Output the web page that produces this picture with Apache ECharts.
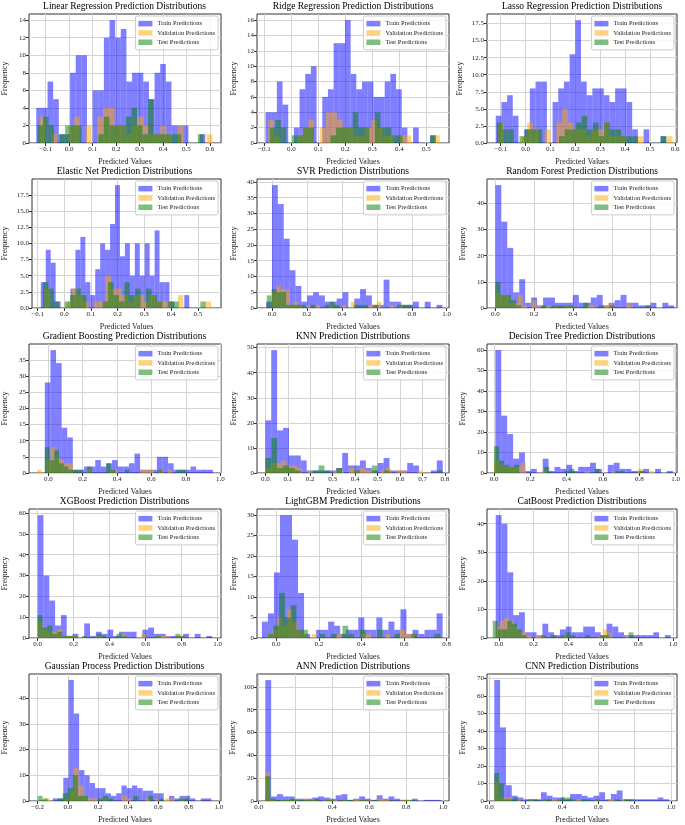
<!DOCTYPE html>
<html>
<head>
<meta charset="utf-8">
<script src="https://cdn.jsdelivr.net/npm/echarts@6/dist/echarts.min.js"></script>
</head>
<body style="margin:0;background:#fff">
<div id="main" style="width:685px;height:825px;"></div>
<script type="text/javascript">
    // 15 histogram panels, 30 bins per set
    var titles = ['Linear Regression', 'Ridge Regression', 'Lasso Regression',
        'Elastic Net', 'SVR', 'Random Forest',
        'Gradient Boosting', 'KNN', 'Decision Tree',
        'XGBoost', 'LightGBM', 'CatBoost',
        'Gaussian Process', 'ANN', 'CNN'];
    var seriesNames = ['Train Predictions', 'Validation Predictions', 'Test Predictions'];

    // counts per bin; ranges = [train, validation, test] min/max of the predictions
    var lrTrain = [4, 4, 7, 5, 1, 1, 8, 10, 10, 0, 6, 6, 12, 14, 12, 13, 7, 8, 8, 7, 5, 8, 9, 7, 2, 2, 2, 0, 0, 1];
    var lrVal = [3, 0, 1, 0, 0, 2, 3, 0, 2, 0, 3, 4, 4, 2, 2, 1, 2, 3, 2, 1, 1, 2, 1, 0, 2, 0, 0, 0, 0, 1];
    var lrTest = [2, 3, 2, 0, 1, 2, 2, 2, 0, 0, 0, 1, 3, 2, 2, 2, 3, 4, 2, 1, 5, 1, 1, 1, 1, 1, 0, 0, 0, 1];
    var lrRanges = [[-0.14, 0.58], [-0.125, 0.61], [-0.135, 0.572]];

    var ridgeTrain = [4, 4, 8, 5, 0, 2, 7, 9, 10, 0, 6, 7, 13, 13, 16, 9, 7, 8, 8, 6, 6, 8, 9, 7, 2, 0, 2, 0, 0, 1];
    var ridgeVal = [3, 1, 0, 0, 0, 1, 2, 3, 0, 2, 4, 4, 3, 2, 2, 1, 1, 2, 3, 2, 1, 1, 0, 1, 1, 0, 0, 0, 0, 1];
    var ridgeTest = [2, 3, 2, 0, 1, 1, 2, 2, 0, 0, 0, 1, 2, 2, 2, 4, 2, 2, 0, 4, 2, 2, 1, 1, 0, 0, 0, 0, 0, 1];
    var ridgeRanges = [[-0.0955, 0.535], [-0.085, 0.55], [-0.08, 0.535]];

    var lassoTrain = [4, 6, 7, 4, 0, 2, 8, 9, 9, 0, 6, 8, 9, 13, 18, 9, 7, 8, 8, 7, 6, 8, 8, 6, 2, 0, 2, 0, 0, 1];
    var lassoVal = [3, 0, 0, 0, 1, 3, 2, 0, 2, 0, 3, 5, 3, 2, 2, 1, 2, 2, 3, 1, 1, 1, 0, 0, 1, 0, 0, 0, 0, 1];
    var lassoTest = [3, 2, 2, 0, 1, 2, 2, 2, 0, 0, 0, 1, 2, 2, 3, 4, 2, 3, 1, 3, 2, 2, 1, 1, 1, 0, 0, 0, 0, 1];
    var lassoRanges = [[-0.12, 0.565], [-0.11, 0.59], [-0.115, 0.565]];

    var enetTrain = [4, 9, 7, 1, 0, 0, 3, 9, 11, 4, 2, 6, 10, 9, 13, 19, 8, 10, 5, 10, 5, 10, 5, 12, 4, 4, 1, 0, 0, 2];
    var enetVal = [3, 0, 0, 0, 1, 3, 2, 1, 0, 1, 1, 5, 3, 3, 2, 1, 2, 2, 1, 2, 1, 1, 1, 0, 2, 0, 0, 0, 0, 1];
    var enetTest = [4, 3, 1, 0, 1, 2, 3, 2, 0, 0, 0, 1, 4, 2, 1, 4, 2, 3, 0, 3, 2, 1, 0, 1, 1, 0, 0, 0, 0, 1];
    var enetRanges = [[-0.088, 0.468], [-0.075, 0.55], [-0.08, 0.53]];

    var svrTrain = [2, 39, 33, 22, 12, 7, 2, 4, 5, 4, 2, 2, 3, 5, 0, 3, 6, 4, 1, 1, 9, 2, 2, 1, 1, 2, 0, 2, 0, 1];
    var svrVal = [5, 7, 6, 6, 1, 2, 1, 0, 1, 0, 1, 0, 0, 1, 0, 0, 1, 0, 2, 0, 0, 0, 1, 1, 2, 0, 0, 1, 0, 1];
    var svrTest = [4, 6, 5, 5, 1, 1, 1, 1, 0, 1, 0, 0, 1, 2, 1, 0, 0, 0, 1, 1, 1, 0, 1, 0, 0, 0, 0, 1, 1, 1];
    var svrRanges = [[-0.034, 0.975], [0.0, 0.75], [-0.03, 0.8]];

    var rfTrain = [47, 33, 23, 6, 11, 2, 4, 1, 4, 4, 2, 2, 2, 5, 2, 2, 4, 5, 1, 2, 3, 5, 2, 2, 1, 1, 2, 0, 2, 1];
    var rfVal = [6, 5, 5, 2, 2, 5, 1, 0, 3, 1, 0, 1, 0, 1, 0, 1, 1, 0, 0, 0, 1, 1, 0, 0, 1, 2, 0, 0, 0, 2];
    var rfTest = [10, 5, 5, 3, 1, 0, 0, 0, 0, 1, 0, 1, 1, 1, 1, 0, 0, 2, 0, 0, 1, 0, 1, 0, 0, 0, 0, 0, 0, 1];
    var rfRanges = [[0.0, 0.922], [0.0, 0.7], [0.0, 0.8]];

    var gbTrain = [28, 38, 34, 14, 11, 1, 1, 2, 2, 4, 2, 3, 4, 2, 2, 3, 6, 1, 1, 1, 5, 5, 3, 1, 1, 1, 2, 1, 1, 1];
    var gbVal = [1, 0, 4, 8, 5, 4, 3, 3, 0, 0, 0, 1, 0, 0, 0, 0, 1, 1, 0, 0, 0, 0, 0, 1, 1, 1, 0, 1, 0, 1];
    var gbTest = [8, 4, 7, 3, 2, 1, 1, 1, 0, 2, 0, 0, 0, 3, 1, 0, 0, 1, 0, 0, 0, 0, 0, 0, 1, 0, 0, 0, 1, 1];
    var gbRanges = [[-0.02, 0.957], [-0.065, 0.72], [-0.02, 0.8]];

    var knnTrain = [21, 49, 17, 18, 7, 7, 5, 1, 1, 1, 1, 1, 2, 8, 3, 3, 5, 2, 1, 4, 6, 1, 1, 1, 4, 3, 0, 0, 1, 5];
    var knnVal = [2, 4, 4, 5, 3, 3, 2, 0, 1, 0, 0, 0, 0, 1, 1, 0, 2, 1, 2, 1, 1, 0, 1, 2, 0, 1, 1, 0, 0, 1];
    var knnTest = [6, 14, 2, 3, 2, 1, 0, 0, 1, 3, 1, 0, 2, 0, 0, 1, 0, 0, 3, 0, 1, 0, 0, 0, 0, 0, 0, 0, 0, 1];
    var knnRanges = [[0.0, 0.79], [0.0, 0.7], [0.0, 0.79]];

    var dtTrain = [60, 28, 19, 7, 10, 1, 2, 0, 7, 1, 3, 2, 4, 1, 3, 3, 5, 2, 0, 4, 5, 2, 2, 1, 1, 2, 0, 2, 0, 1];
    var dtVal = [6, 4, 3, 3, 3, 5, 0, 0, 0, 1, 0, 0, 0, 0, 0, 0, 0, 1, 0, 0, 0, 0, 1, 0, 0, 0, 0, 2, 0, 1];
    var dtTest = [13, 6, 4, 3, 4, 0, 0, 0, 0, 0, 3, 0, 0, 0, 1, 2, 0, 0, 0, 0, 2, 0, 0, 0, 1, 1, 0, 0, 0, 1];
    var dtRanges = [[0.007, 0.985], [0.0, 0.88], [0.0, 0.83]];

    var xgbTrain = [59, 30, 18, 6, 11, 1, 2, 0, 7, 1, 3, 2, 4, 1, 3, 3, 3, 0, 4, 5, 2, 2, 1, 1, 1, 2, 0, 2, 0, 1];
    var xgbVal = [8, 4, 3, 3, 4, 1, 1, 1, 0, 0, 0, 0, 1, 0, 0, 0, 0, 2, 0, 0, 0, 2, 0, 0, 1, 1, 1, 0, 1, 1];
    var xgbTest = [11, 5, 6, 2, 3, 1, 1, 1, 0, 1, 0, 0, 2, 1, 0, 0, 2, 1, 0, 0, 0, 0, 0, 0, 1, 0, 0, 0, 2, 1];
    var xgbRanges = [[0.0, 0.97], [0.0, 0.82], [0.0, 0.82]];

    var lgbTrain = [4, 6, 16, 30, 30, 24, 11, 1, 0, 2, 2, 4, 3, 1, 2, 2, 5, 2, 2, 5, 2, 4, 2, 7, 1, 2, 1, 2, 2, 6];
    var lgbVal = [1, 2, 5, 3, 7, 4, 2, 1, 0, 1, 0, 0, 0, 0, 1, 0, 0, 0, 0, 1, 1, 0, 0, 0, 1, 0, 0, 2, 1, 1];
    var lgbTest = [1, 3, 11, 5, 8, 2, 2, 0, 0, 1, 0, 1, 0, 3, 1, 0, 2, 0, 0, 2, 0, 0, 1, 0, 0, 1, 0, 0, 0, 1];
    var lgbRanges = [[-0.067, 0.781], [-0.04, 0.65], [-0.04, 0.77]];

    var catTrain = [43, 40, 23, 8, 9, 2, 2, 1, 5, 2, 1, 3, 4, 2, 2, 4, 4, 2, 1, 5, 4, 2, 1, 1, 1, 1, 1, 2, 0, 1];
    var catVal = [4, 6, 7, 6, 4, 2, 2, 1, 0, 1, 1, 0, 0, 0, 0, 1, 0, 0, 0, 0, 0, 0, 0, 1, 3, 2, 0, 0, 0, 1];
    var catTest = [6, 3, 3, 6, 5, 3, 1, 0, 0, 0, 1, 0, 1, 0, 1, 2, 1, 0, 0, 1, 0, 0, 1, 1, 0, 0, 0, 0, 2, 0];
    var catRanges = [[-0.018, 0.986], [-0.02, 0.75], [-0.035, 0.8]];

    var gpTrain = [1, 1, 9, 47, 34, 12, 10, 7, 5, 5, 3, 2, 3, 6, 5, 6, 5, 4, 4, 3, 3, 0, 2, 1, 2, 2, 1, 0, 1, 1];
    var gpVal = [1, 0, 0, 0, 1, 4, 13, 6, 2, 1, 1, 0, 1, 0, 0, 0, 2, 1, 0, 0, 0, 1, 0, 1, 0, 1, 1, 0, 1, 0];
    var gpTest = [2, 1, 0, 0, 1, 3, 5, 10, 2, 2, 0, 0, 1, 2, 1, 0, 0, 0, 0, 2, 0, 0, 2, 0, 1, 0, 0, 0, 1, 1];
    var gpRanges = [[-0.1, 0.95], [-0.15, 0.8], [-0.2, 0.8]];

    var annTrain = [106, 4, 6, 4, 4, 2, 2, 2, 3, 4, 3, 2, 5, 6, 1, 2, 4, 2, 1, 5, 2, 4, 2, 1, 0, 2, 0, 1, 1, 1];
    var annVal = [25, 1, 0, 1, 1, 1, 2, 0, 2, 1, 1, 0, 1, 1, 1, 0, 1, 0, 1, 1, 1, 1, 0, 2, 1, 1, 0, 0, 1, 1];
    var annTest = [22, 2, 1, 1, 1, 2, 1, 1, 1, 1, 2, 0, 1, 1, 0, 1, 1, 1, 0, 1, 1, 0, 1, 0, 0, 1, 0, 0, 1, 1];
    var annRanges = [[0.036, 0.99], [0.036, 0.82], [0.036, 0.84]];

    var cnnTrain = [69, 42, 9, 3, 2, 1, 1, 1, 5, 3, 2, 2, 1, 4, 4, 3, 2, 3, 5, 1, 4, 6, 1, 1, 1, 1, 1, 1, 2, 1];
    var cnnVal = [11, 2, 2, 2, 0, 1, 0, 0, 1, 0, 0, 1, 0, 1, 1, 0, 0, 0, 1, 1, 0, 0, 0, 1, 0, 0, 1, 1, 0, 1];
    var cnnTest = [16, 10, 1, 1, 2, 0, 0, 1, 1, 0, 1, 1, 0, 1, 2, 2, 1, 0, 1, 1, 0, 1, 0, 0, 0, 1, 0, 1, 1, 0];
    var cnnRanges = [[0.027, 0.99], [0.027, 0.75], [0.027, 0.82]];

    var counts = [
        [lrTrain, lrVal, lrTest], [ridgeTrain, ridgeVal, ridgeTest], [lassoTrain, lassoVal, lassoTest],
        [enetTrain, enetVal, enetTest], [svrTrain, svrVal, svrTest], [rfTrain, rfVal, rfTest],
        [gbTrain, gbVal, gbTest], [knnTrain, knnVal, knnTest], [dtTrain, dtVal, dtTest],
        [xgbTrain, xgbVal, xgbTest], [lgbTrain, lgbVal, lgbTest], [catTrain, catVal, catTest],
        [gpTrain, gpVal, gpTest], [annTrain, annVal, annTest], [cnnTrain, cnnVal, cnnTest]
    ];
    var ranges = [lrRanges, ridgeRanges, lassoRanges, enetRanges, svrRanges, rfRanges,
        gbRanges, knnRanges, dtRanges, xgbRanges, lgbRanges, catRanges, gpRanges, annRanges, cnnRanges];

    // axis limits and tick labels
    var xLimits = [[-0.171, 0.647], [-0.127, 0.584], [-0.155, 0.608], [-0.121, 0.587], [-0.086, 1.013],
        [-0.043, 0.936], [-0.112, 1.004], [-0.037, 0.818], [-0.039, 1.008], [-0.048, 1.019],
        [-0.09, 0.811], [-0.068, 1.022], [-0.257, 1.014], [-0.009, 1.032], [-0.013, 1.033]];
    var tickNeg1to6 = [-0.1, 0, 0.1, 0.2, 0.3, 0.4, 0.5, 0.6];
    var tickNeg1to5 = [-0.1, 0, 0.1, 0.2, 0.3, 0.4, 0.5];
    var tick0to1 = [0, 0.2, 0.4, 0.6, 0.8, 1.0];
    var tick0to08 = [0, 0.2, 0.4, 0.6, 0.8];
    var tickKnn = [0, 0.1, 0.2, 0.3, 0.4, 0.5, 0.6, 0.7, 0.8];
    var tickGp = [-0.2, 0, 0.2, 0.4, 0.6, 0.8, 1.0];
    var xTicks = [tickNeg1to6, tickNeg1to5, tickNeg1to6, tickNeg1to5, tick0to1, tick0to08,
        tick0to1, tickKnn, tick0to1, tick0to1, tick0to08, tick0to1, tickGp, tick0to1, tick0to1];
    var yTicks = [
        [0, 2, 4, 6, 8, 10, 12, 14], [0, 2, 4, 6, 8, 10, 12, 14, 16],
        [0, 2.5, 5, 7.5, 10, 12.5, 15, 17.5], [0, 2.5, 5, 7.5, 10, 12.5, 15, 17.5],
        [0, 5, 10, 15, 20, 25, 30, 35, 40], [0, 10, 20, 30, 40],
        [0, 5, 10, 15, 20, 25, 30, 35], [0, 10, 20, 30, 40, 50], [0, 10, 20, 30, 40, 50, 60],
        [0, 10, 20, 30, 40, 50, 60], [0, 5, 10, 15, 20, 25, 30], [0, 10, 20, 30, 40],
        [0, 10, 20, 30, 40], [0, 20, 40, 60, 80, 100], [0, 10, 20, 30, 40, 50, 60, 70]
    ];

    // layout (pixels)
    var FONT = 'Liberation Serif';
    var colors = ['rgba(0,0,255,0.5)', 'rgba(255,165,0,0.5)', 'rgba(0,128,0,0.5)'];
    var colLeft = [28, 257, 487];
    var colRight = [221, 449, 677];
    var rowTop = [14, 179, 344, 509, 674];
    var plotHeight = 129;
    var yNameX = [8, 238, 467];

    function histData(c, r) {
        var w = (r[1] - r[0]) / c.length;
        return c.map(function (v, k) {
            return [r[0] + k * w, r[0] + (k + 1) * w, v];
        });
    }

    function renderBar(params, api) {
        var p0 = api.coord([api.value(0), 0]);
        var p1 = api.coord([api.value(1), api.value(2)]);
        return {
            type: 'rect',
            shape: {x: p0[0], y: p1[1], width: p1[0] - p0[0], height: p0[1] - p1[1]},
            style: {fill: api.visual('color')}
        };
    }

    function fmtNum(v, dec) {
        var s = Math.abs(v).toFixed(dec);
        return v < -1e-9 ? '\u2212' + s : s;
    }

    var grids = [], xAxes = [], yAxes = [], titleList = [], legends = [], series = [];

    titles.forEach(function (t, i) {
        var r = Math.floor(i / 3), c = i % 3;
        var yt = yTicks[i];
        var yDec = (yt[1] % 1 !== 0) ? 1 : 0;
        var maxLen = fmtNum(yt[yt.length - 1], yDec).length;
        var yMax = 1.05 * Math.max.apply(null, counts[i].map(function (a) {
            return Math.max.apply(null, a);
        }));

        grids.push({
            left: colLeft[c], top: rowTop[r],
            width: colRight[c] - colLeft[c], height: plotHeight,
            show: true, borderColor: '#333', borderWidth: 1
        });
        titleList.push({
            text: t + ' Prediction Distributions',
            left: (colLeft[c] + colRight[c]) / 2,
            top: rowTop[r] - 13,
            textAlign: 'center',
            padding: 0,
            textStyle: {fontFamily: FONT, fontSize: 9.5, fontWeight: 'normal', color: '#000'}
        });
        legends.push({
            orient: 'vertical',
            right: 685 - colRight[c] + 3,
            top: rowTop[r] + 2,
            data: seriesNames,
            icon: 'rect',
            itemWidth: 14,
            itemHeight: 5.5,
            itemGap: 0,
            padding: [3, 3, 3, 3],
            backgroundColor: 'rgba(255,255,255,0.8)',
            borderColor: '#cccccc',
            borderWidth: 1,
            borderRadius: 2,
            selectedMode: false,
            textStyle: {fontFamily: FONT, fontSize: 6.5, color: '#222', lineHeight: 9.3}
        });
        xAxes.push({
            type: 'value', gridIndex: i,
            min: xLimits[i][0], max: xLimits[i][1],
            axisLine: {show: false, onZero: false},
            axisTick: {show: true, customValues: xTicks[i], length: 3, lineStyle: {color: '#333'}},
            axisLabel: {
                customValues: xTicks[i], margin: 3,
                fontFamily: FONT, fontSize: 7, color: '#222',
                formatter: function (v) { return fmtNum(v, 1); }
            },
            splitLine: {show: true, lineStyle: {color: '#d4d4d4', width: 1}},
            name: 'Predicted Values', nameLocation: 'middle', nameGap: 15,
            nameTextStyle: {fontFamily: FONT, fontSize: 8, color: '#222'}
        });
        yAxes.push({
            type: 'value', gridIndex: i,
            min: 0, max: yMax,
            axisLine: {show: false, onZero: false},
            axisTick: {show: true, customValues: yt, length: 3, lineStyle: {color: '#333'}},
            axisLabel: {
                customValues: yt, margin: 3,
                fontFamily: FONT, fontSize: 7, color: '#222',
                formatter: function (v) { return fmtNum(v, yDec); }
            },
            splitLine: {show: true, lineStyle: {color: '#d4d4d4', width: 1}},
            name: 'Frequency', nameLocation: 'middle', nameRotate: 90,
            nameGap: colLeft[c] - yNameX[c] + (maxLen - 2) * 1.5,
            nameTextStyle: {fontFamily: FONT, fontSize: 8, color: '#222'}
        });
        for (var s = 0; s < 3; s++) {
            series.push({
                type: 'custom',
                name: seriesNames[s],
                xAxisIndex: i,
                yAxisIndex: i,
                renderItem: renderBar,
                itemStyle: {color: colors[s]},
                encode: {x: [0, 1], y: 2},
                silent: true,
                z: 2 + s,
                data: histData(counts[i][s], ranges[i][s])
            });
        }
    });

    var myChart = echarts.init(document.getElementById('main'));
    myChart.setOption({
        animation: false,
        backgroundColor: '#fff',
        title: titleList,
        legend: legends,
        grid: grids,
        xAxis: xAxes,
        yAxis: yAxes,
        series: series
    });
</script>
</body>
</html>
